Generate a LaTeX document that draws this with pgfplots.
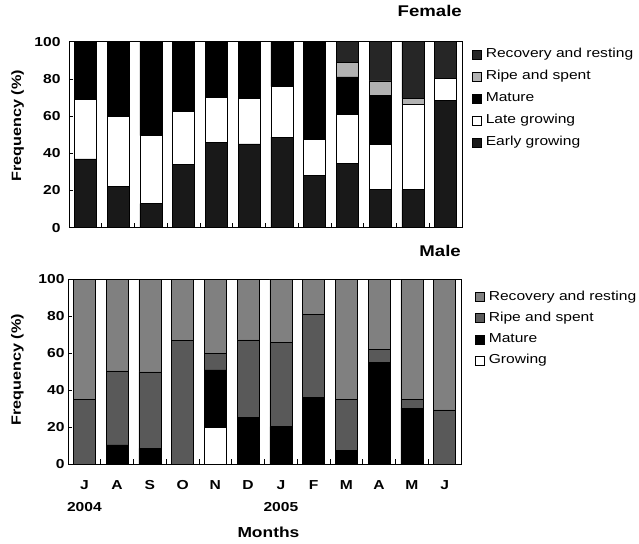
\documentclass[border=0pt]{standalone}
\usepackage{fontspec}
\setmainfont{Liberation Sans}[FakeStretch=1.2]
\usepackage{pgfplots}
\pgfplotsset{compat=1.18}
\begin{document}
\begin{tikzpicture}
\useasboundingbox (0pt,0pt) rectangle (639pt,543pt);
\pgfplotsset{
 base/.style={
  scale only axis, width=393pt,
  ybar stacked, bar width=22pt,
  xmin=-0.5, xmax=11.5, ymin=0, ymax=100,
  ytick={0,20,...,100},
  xtick={0,...,11},
  minor xtick={0.5,1.5,...,10.5},
  xtick pos=bottom, ytick pos=left,
  tick align=inside,
  major tick length=4pt, minor tick length=5pt,
  major x tick style={draw=none},
  tick style={black, line width=0.6pt},
  axis line style={line width=0.8pt},
  /pgf/number format/assume math mode=true,
  yticklabel style={font=\bfseries\fontsize{13}{15}\selectfont},
  title style={anchor=south east, inner sep=0pt, font=\bfseries\fontsize{15.5}{18}\selectfont},
  legend cell align=left,
  legend style={draw=none, fill=none, anchor=north west, font=\fontsize{13}{15}\selectfont, column sep=4pt, nodes={inner sep=0pt, text height=9.5pt, text depth=3pt}},
  reverse legend,
 },
 bar/.style={draw=black, line width=0.6pt, legend image code/.code={\draw[##1,line width=0.6pt] (0pt,-4.5pt) rectangle (9pt,4.5pt);}},
}
% ---------------- Female ----------------
\begin{axis}[base,
  at={(69pt,315.3pt)}, anchor=south west, height=186pt,
  xticklabels={},
  yticklabel style={xshift=-5pt},
  ylabel={Frequency (\%)},
  every axis y label/.style={at={(axis description cs:-0.131,0.548)}, rotate=90, anchor=center, font=\bfseries\fontsize{13.5}{16}\selectfont},
  title={Female}, title style={at={(rel axis cs:1,1)}, yshift=19pt},
  legend style={at={(rel axis cs:1,1)}, xshift=7pt, yshift=-4.4pt, row sep=9.5pt},
]
\addplot[bar, fill=black!90] coordinates {(0,37) (1,22) (2,13) (3,34) (4,46) (5,45) (6,48.7) (7,28) (8,34.6) (9,20.4) (10,20.4) (11,68.6)};
\addlegendentry{Early growing}
\addplot[bar, fill=white] coordinates {(0,32) (1,38) (2,36.5) (3,28.5) (4,24) (5,24.5) (6,27.1) (7,19.5) (8,26.5) (9,24.4) (10,45.7) (11,11.7)};
\addlegendentry{Late growing}
\addplot[bar, fill=black] coordinates {(0,31) (1,40) (2,50.5) (3,37.5) (4,30) (5,30.5) (6,24.2) (7,52.5) (8,20) (9,26.2) (10,0) (11,0)};
\addlegendentry{Mature}
\addplot[bar, fill=black!30] coordinates {(0,0) (1,0) (2,0) (3,0) (4,0) (5,0) (6,0) (7,0) (8,7.8) (9,7.9) (10,3.4) (11,0)};
\addlegendentry{Ripe and spent}
\addplot[bar, fill=black!85] coordinates {(0,0) (1,0) (2,0) (3,0) (4,0) (5,0) (6,0) (7,0) (8,11.1) (9,21.1) (10,30.5) (11,19.7)};
\addlegendentry{Recovery and resting}
\end{axis}
% ---------------- Male ----------------
\begin{axis}[base,
  at={(68pt,78.7pt)}, anchor=south west, height=185pt,
  xticklabels={{J\\2004},A,S,O,N,D,{J\\2005},F,M,A,M,J},
  xticklabel style={font=\bfseries\fontsize{13}{22.4}\selectfont, align=center, anchor=north, inner sep=0pt, yshift=-16pt},
  ylabel={Frequency (\%)},
  every axis y label/.style={at={(axis description cs:-0.1285,0.51)}, rotate=90, anchor=center, font=\bfseries\fontsize{13.5}{16}\selectfont},
  xlabel={Months},
  every axis x label/.style={at={(axis description cs:0.51,0)}, anchor=north, inner sep=0pt, yshift=-62.7pt, font=\bfseries\fontsize{14.5}{17}\selectfont},
  title={Male}, title style={at={(rel axis cs:1,1)}, yshift=16.6pt},
  legend style={at={(rel axis cs:1,1)}, xshift=11pt, yshift=-9pt, row sep=8.8pt},
]
\addplot[bar, fill=white] coordinates {(0,0) (1,0) (2,0) (3,0) (4,20) (5,0) (6,0) (7,0) (8,0) (9,0) (10,0) (11,0)};
\addlegendentry{Growing}
\addplot[bar, fill=black] coordinates {(0,0) (1,10.5) (2,8.6) (3,0) (4,31) (5,25.2) (6,20.4) (7,36.2) (8,7.7) (9,55.1) (10,30.3) (11,0)};
\addlegendentry{Mature}
\addplot[bar, fill=black!65] coordinates {(0,35) (1,40) (2,41.4) (3,67) (4,9) (5,42) (6,45.4) (7,44.8) (8,27.3) (9,6.9) (10,4.7) (11,29.4)};
\addlegendentry{Ripe and spent}
\addplot[bar, fill=black!50] coordinates {(0,65) (1,49.5) (2,50) (3,33) (4,40) (5,32.8) (6,34.2) (7,19) (8,65) (9,38) (10,65) (11,70.6)};
\addlegendentry{Recovery and resting}
\end{axis}
\end{tikzpicture}
\end{document}
